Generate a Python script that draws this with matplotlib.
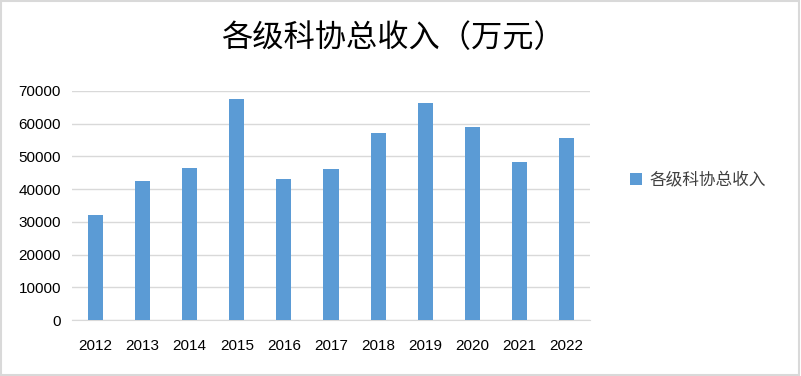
import matplotlib
matplotlib.use("Agg")
import matplotlib.pyplot as plt
from matplotlib.patches import Rectangle

years = ["2012", "2013", "2014", "2015", "2016", "2017", "2018", "2019", "2020", "2021", "2022"]
values = [32100, 42400, 46400, 67500, 43000, 46100, 57100, 66300, 58900, 48200, 55600]
series_name = "各级科协总收入"
title = "各级科协总收入（万元）"
yticks = [0, 10000, 20000, 30000, 40000, 50000, 60000, 70000]

plt.rcParams['font.family'] = ['Noto Sans CJK SC', 'DejaVu Sans']

fig = plt.figure(figsize=(8.01, 3.76), dpi=100)
ax = fig.add_axes([72/801, 1-320/376, (590-72)/801, (320-91)/376])

x = list(range(len(years)))
ax.bar(x, values, width=0.32, color="#5b9bd5", label=series_name, zorder=3)
ax.set_xlim(-0.5, len(years)-0.5)
ax.set_ylim(0, 70000)
ax.set_yticks(yticks)
ax.set_yticklabels([str(v) for v in yticks], fontsize=11, family=['Liberation Sans'])
ax.set_xticks(x)
ax.set_xticklabels(years, fontsize=11, family=['Liberation Sans'])
ax.tick_params(length=0)
ax.xaxis.set_tick_params(pad=14)
ax.yaxis.set_tick_params(pad=8)
ax.grid(axis='y', color='#d9d9d9', linewidth=1, zorder=0)
for s in ['top', 'right', 'left']:
    ax.spines[s].set_visible(False)
ax.spines['bottom'].set_color('#d9d9d9')

fig.text(393/801, 1-38/376, title, ha='center', va='center', fontsize=22.5,
         fontweight='medium', color='black')

leg = fig.legend(loc='center left', bbox_to_anchor=(615/801, 1-180/376), frameon=False,
                 fontsize=12, handlelength=0.7, handleheight=0.7, handletextpad=0.5)
for t in leg.get_texts():
    t.set_color('#404040')

fig.patches.append(Rectangle((0.001, 0.002), 0.997, 0.995, transform=fig.transFigure,
                             fill=False, edgecolor='#d9d9d9', linewidth=1.5))

fig.savefig("out.png", dpi=100)
